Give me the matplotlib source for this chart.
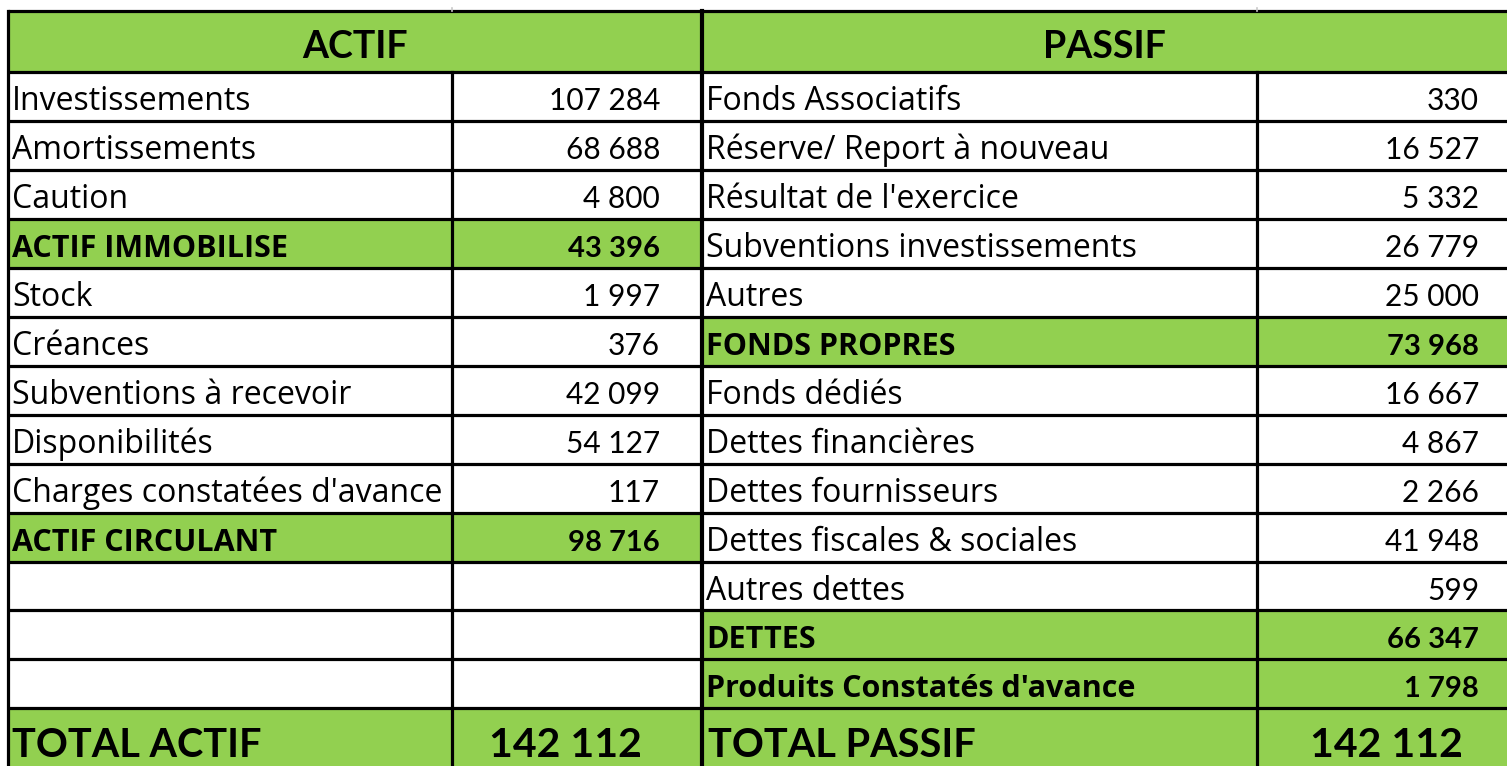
import matplotlib.pyplot as plt
from matplotlib.patches import Rectangle

# Bilan data
actif_labels = ["Investissements", "Amortissements", "Caution", "ACTIF IMMOBILISE",
                "Stock", "Créances", "Subventions à recevoir", "Disponibilités",
                "Charges constatées d'avance", "ACTIF CIRCULANT", "", "", ""]
actif_values = [107284, 68688, 4800, 43396, 1997, 376, 42099, 54127, 117, 98716,
                None, None, None]
actif_bold = [3, 9]

passif_labels = ["Fonds Associatifs", "Réserve/ Report à nouveau", "Résultat de l'exercice",
                 "Subventions investissements", "Autres", "FONDS PROPRES", "Fonds dédiés",
                 "Dettes financières", "Dettes fournisseurs", "Dettes fiscales & sociales",
                 "Autres dettes", "DETTES", "Produits Constatés d'avance"]
passif_values = [330, 16527, 5332, 26779, 25000, 73968, 16667, 4867, 2266, 41948,
                 599, 66347, 1798]
passif_bold = [5, 11, 12]

headers = ["ACTIF", "PASSIF"]
total_labels = ["TOTAL ACTIF", "TOTAL PASSIF"]
total_values = [142112, 142112]

GREEN = "#92D050"
W, H = 1507, 766


def fmt(v):
    return "" if v is None else f"{v:,}".replace(",", " ")


fig = plt.figure(figsize=(W / 100, H / 100), dpi=100)
ax = fig.add_axes([0, 0, 1, 1])
ax.set_xlim(0, W)
ax.set_ylim(H, 0)
ax.axis("off")

x0, xa, xm, xp, x1 = 8, 452, 702, 1257, 1520
top, head_h = 11, 61
row_h = 48.95
n = len(actif_labels)
body_top = top + head_h
tot_top = body_top + n * row_h
bottom = H + 20

LAB = ["Open Sans", "DejaVu Sans"]
NUM = ["Lato", "DejaVu Sans"]
lab_reg = dict(family=LAB, fontsize=23, color="black")
lab_bold = dict(family=LAB, fontsize=22, weight="bold", color="black")
num_reg = dict(family=NUM, fontsize=21.5, color="black")
num_bold = dict(family=NUM, fontsize=21, weight="bold", color="black")
head = dict(family=NUM, fontsize=27, weight="bold", color="black")
tot_lab = dict(family=NUM, fontsize=28.5, weight="bold", color="black")
tot_num = dict(family=NUM, fontsize=29.5, weight="bold", color="black")

# header
ax.add_patch(Rectangle((x0, top), x1 - x0, head_h, color=GREEN, zorder=0))
ax.text((x0 + xm) / 2, top + 47, headers[0], ha="center", va="baseline", **head)
ax.text((xm + 1507) / 2, top + 47, headers[1], ha="center", va="baseline", **head)

# body rows
sides = [(actif_labels, actif_values, actif_bold, x0, xm, 660),
         (passif_labels, passif_values, passif_bold, xm, x1, 1479)]
for labels, values, bold_rows, xl, xr, val_right in sides:
    for i, (lab, val) in enumerate(zip(labels, values)):
        y = body_top + i * row_h
        if i in bold_rows:
            ax.add_patch(Rectangle((xl, y), xr - xl, row_h, color=GREEN, zorder=0))
            ls, ns = lab_bold, num_bold
        else:
            ls, ns = lab_reg, num_reg
        ax.text(xl + 4, y + 38, lab, ha="left", va="baseline", **ls)
        ax.text(val_right, y + 38, fmt(val), ha="right", va="baseline", **ns)

# totals
ax.add_patch(Rectangle((x0, tot_top), x1 - x0, bottom - tot_top, color=GREEN, zorder=0))
ax.text(x0 + 4, tot_top + 49, total_labels[0], ha="left", va="baseline", **tot_lab)
ax.text(xm + 6, tot_top + 49, total_labels[1], ha="left", va="baseline", **tot_lab)
ax.text(565, tot_top + 49, fmt(total_values[0]), ha="center", va="baseline", **tot_num)
ax.text(1386, tot_top + 49, fmt(total_values[1]), ha="center", va="baseline", **tot_num)

# grid lines
lw = 2.3
ax.plot([x0, x1], [top, top], color="black", lw=lw, solid_capstyle="butt")
for k in range(n + 1):
    y = body_top + k * row_h
    ax.plot([x0, x1], [y, y], color="black", lw=lw, solid_capstyle="butt")
ax.plot([x0, x0], [top, bottom], color="black", lw=lw)
ax.plot([xm, xm], [top, bottom], color="black", lw=3)
ax.plot([xa, xa], [body_top, bottom], color="black", lw=lw)
ax.plot([xp, xp], [body_top, bottom], color="black", lw=lw)
for x in (xa, xp):
    ax.plot([x, x], [8, top], color="#c8c8c8", lw=1.2)

fig.savefig("out.png", dpi=100)
